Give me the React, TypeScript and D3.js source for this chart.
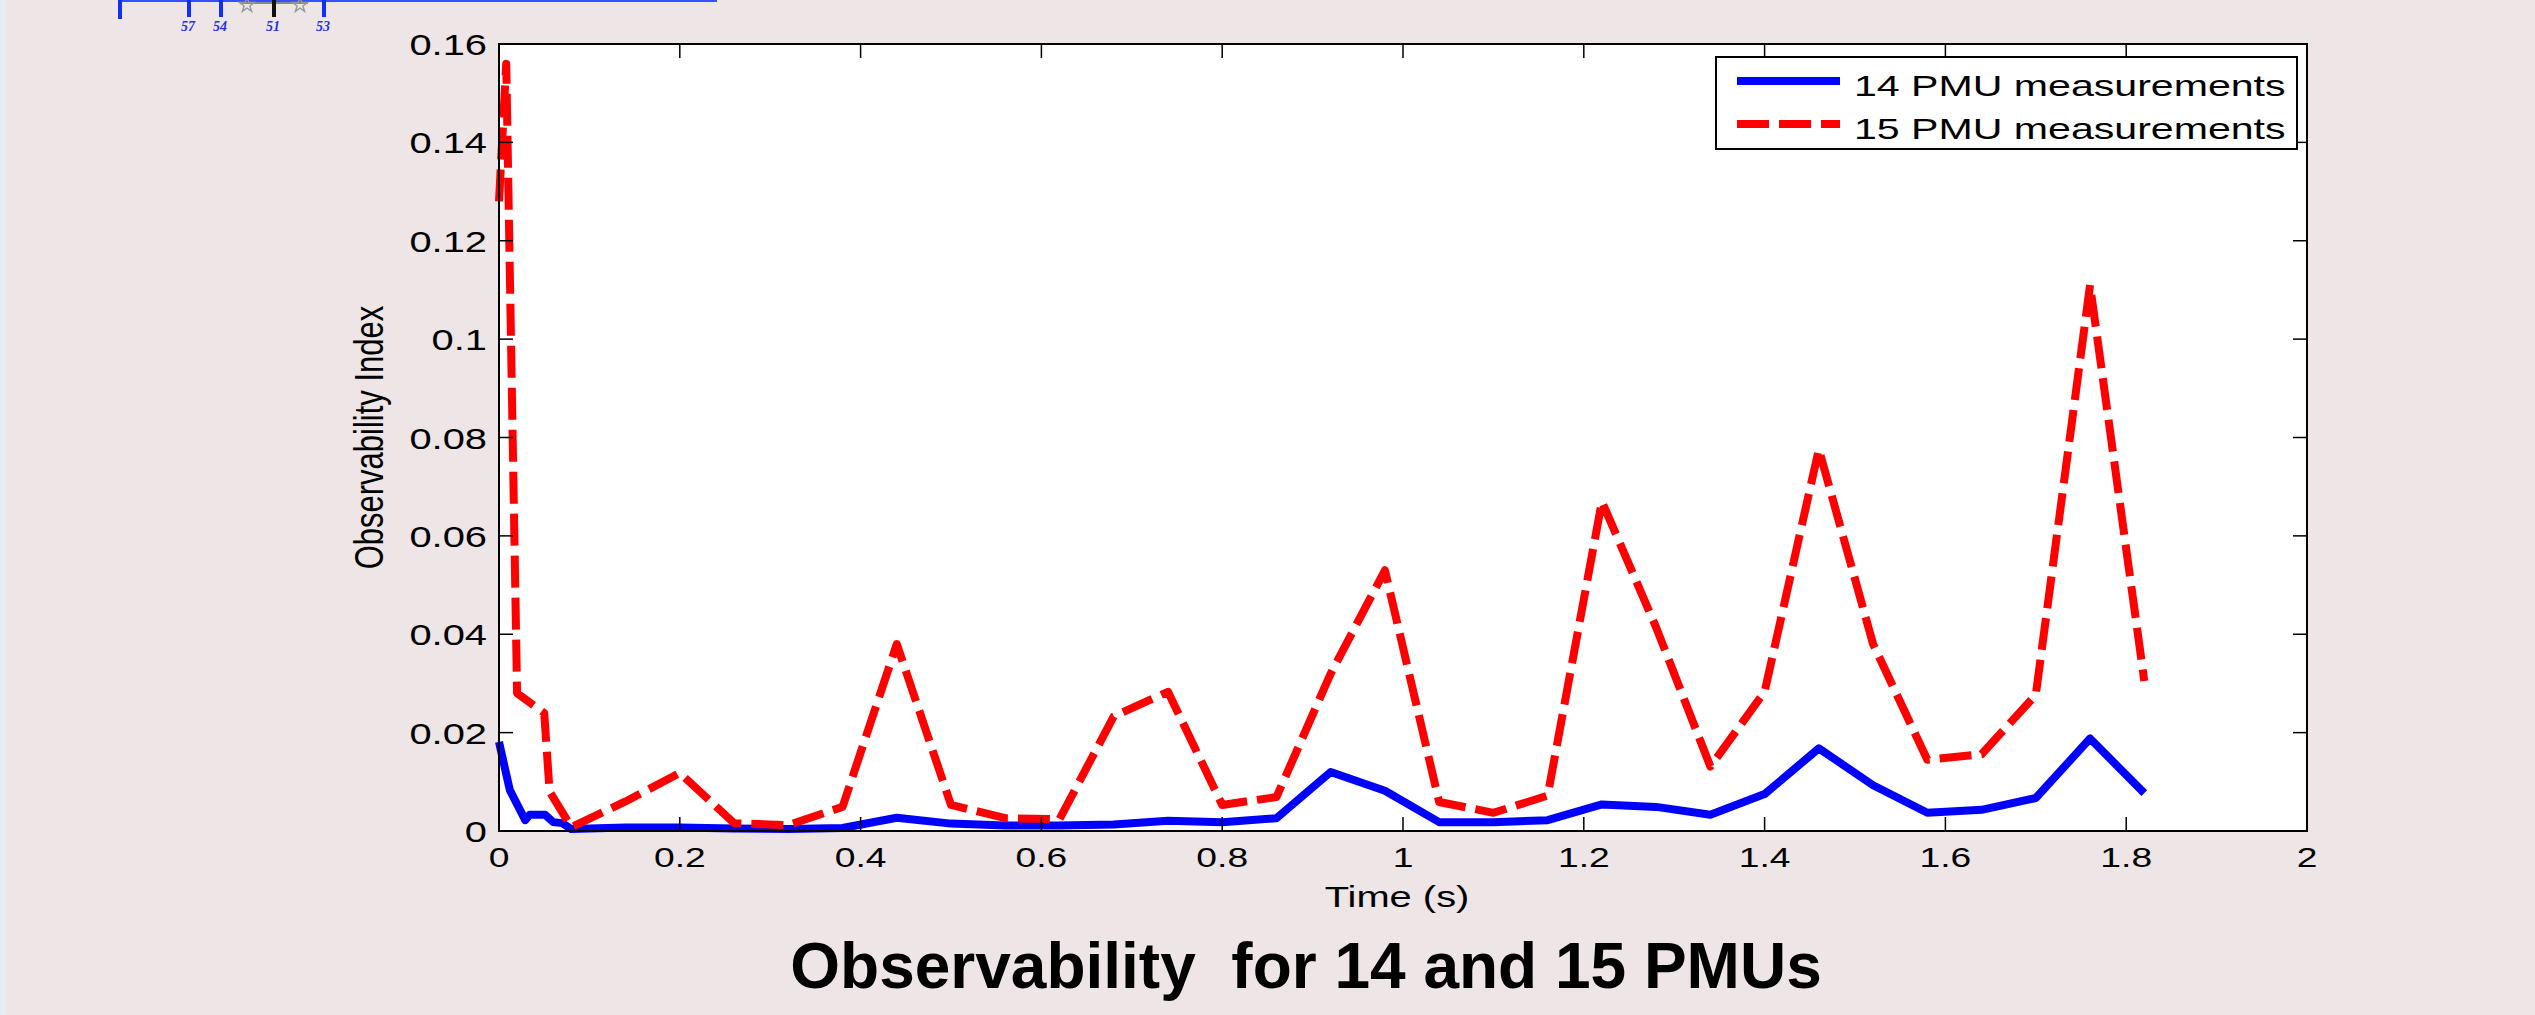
import React from "react";
import * as d3 from "d3";

// time (s) and observability index
const time14 = [0, 0.012, 0.029, 0.034, 0.051, 0.06, 0.07, 0.08, 0.14, 0.2, 0.26, 0.32, 0.38, 0.44, 0.5, 0.56, 0.62, 0.68, 0.74, 0.8, 0.86, 0.92, 0.98, 1.04, 1.1, 1.16, 1.22, 1.28, 1.34, 1.4, 1.46, 1.52, 1.58, 1.64, 1.7, 1.76, 1.82];
const obs14 = [0.0181, 0.0083, 0.0022, 0.0033, 0.0033, 0.0018, 0.0016, 0.0004, 0.0007, 0.0007, 0.0005, 0.0004, 0.0006, 0.0027, 0.0015, 0.0011, 0.0011, 0.0013, 0.0021, 0.0018, 0.0026, 0.012, 0.0082, 0.0018, 0.0018, 0.0022, 0.0054, 0.0049, 0.0033, 0.0075, 0.0168, 0.0093, 0.0037, 0.0043, 0.0067, 0.0188, 0.0077];

const time15 = [0, 0.008, 0.02, 0.05, 0.056, 0.08, 0.14, 0.2, 0.26, 0.32, 0.38, 0.44, 0.5, 0.56, 0.62, 0.68, 0.74, 0.8, 0.86, 0.92, 0.98, 1.04, 1.1, 1.16, 1.22, 1.28, 1.34, 1.4, 1.46, 1.52, 1.58, 1.64, 1.7, 1.76, 1.82];
const obs15 = [0.128, 0.156, 0.028, 0.024, 0.008, 0.0008, 0.006, 0.0118, 0.0016, 0.0012, 0.0049, 0.038, 0.0053, 0.0026, 0.0024, 0.0233, 0.0283, 0.0053, 0.0069, 0.032, 0.053, 0.0059, 0.0037, 0.0072, 0.067, 0.0414, 0.0131, 0.0283, 0.0776, 0.038, 0.0145, 0.0156, 0.0277, 0.111, 0.0305];

const xTicks = [0, 0.2, 0.4, 0.6, 0.8, 1, 1.2, 1.4, 1.6, 1.8, 2];
const xTickLabels = ["0", "0.2", "0.4", "0.6", "0.8", "1", "1.2", "1.4", "1.6", "1.8", "2"];
const yTicks = [0, 0.02, 0.04, 0.06, 0.08, 0.1, 0.12, 0.14, 0.16];
const yTickLabels = ["0", "0.02", "0.04", "0.06", "0.08", "0.1", "0.12", "0.14", "0.16"];

const seriesNames = ["14 PMU measurements", "15 PMU measurements"];
const busLabels = ["57", "54", "51", "53"];

const W = 2535;
const H = 1015;
const left = 499, right = 2307, top = 44, bottom = 831;
const SX = 1.33; // the figure text is stretched sideways
const FONT = "'Liberation Sans', Arial, Helvetica, sans-serif";

function Stretch({ x, y, sx = SX, anchor = "start", size = 30, children, ...rest }: any) {
  return (
    <text
      transform={`translate(${x},${y}) scale(${sx},1)`}
      textAnchor={anchor}
      fontSize={size}
      fontFamily={FONT}
      {...rest}
    >
      {children}
    </text>
  );
}

export default function App() {
  const x = d3.scaleLinear().domain([0, 2]).range([left, right]);
  const y = d3.scaleLinear().domain([0, 0.16]).range([bottom, top]);

  const line = d3
    .line<[number, number]>()
    .x((d) => x(d[0]))
    .y((d) => y(d[1]));

  const pts14 = time14.map((t, i) => [t, obs14[i]] as [number, number]);
  const pts15 = time15.map((t, i) => [t, obs15[i]] as [number, number]);

  const star = d3.symbol().type(d3.symbolStar).size(70)();
  const busX = [189, 221, 274, 324];

  const tickLen = 14;

  return (
    <svg
      width={W}
      height={H}
      style={{ position: "absolute", left: 0, top: 0, background: "#ede5e6" }}
    >
      <rect x={0} y={0} width={W} height={H} fill="#ede5e6" />
      <rect x={0} y={0} width={6} height={H} fill="#e6eef4" />

      {/* cut-off one-line diagram at the top */}
      <g>
        <line x1={120} x2={717} y1={1} y2={1} stroke="#3b4cff" strokeWidth={2} />
        <line x1={120} x2={120} y1={0} y2={19} stroke="#1030ff" strokeWidth={4} />
        <line x1={240} x2={308} y1={3} y2={3} stroke="#888" strokeWidth={2} />
        {busX.map((bx, i) => (
          <line key={i} x1={bx} x2={bx} y1={0} y2={17} stroke={i === 2 ? "#111" : "#1030ff"} strokeWidth={4} />
        ))}
        {[247, 300].map((sx, i) => (
          <path key={i} d={star as string} transform={`translate(${sx},5)`} fill="none" stroke="#999" strokeWidth={1.4} />
        ))}
        {busLabels.map((b, i) => (
          <text key={b} x={busX[i] - 1} y={31} textAnchor="middle" fontSize={14} fontStyle="italic" fontWeight="bold" fill="#2233ee" fontFamily="'Liberation Serif', serif">
            {b}
          </text>
        ))}
      </g>

      {/* plot area */}
      <rect x={left} y={top} width={right - left} height={bottom - top} fill="#ffffff" />

      <path d={line(pts14) as string} fill="none" stroke="#0000ff" strokeWidth={8} strokeLinejoin="round" />
      <path d={line(pts15) as string} fill="none" stroke="#ff0000" strokeWidth={8} strokeDasharray="32 10" strokeLinejoin="round" />

      {/* ticks */}
      {xTicks.map((t, i) => (
        <g key={"xt" + i}>
          <line x1={x(t)} x2={x(t)} y1={bottom} y2={bottom - tickLen} stroke="#000" strokeWidth={1.5} />
          <line x1={x(t)} x2={x(t)} y1={top} y2={top + tickLen} stroke="#000" strokeWidth={1.5} />
          <Stretch x={x(t)} y={867} anchor="middle" size={28}>
            {xTickLabels[i]}
          </Stretch>
        </g>
      ))}
      {yTicks.map((v, i) => (
        <g key={"yt" + i}>
          <line x1={left} x2={left + tickLen} y1={y(v)} y2={y(v)} stroke="#000" strokeWidth={1.5} />
          <line x1={right} x2={right - tickLen} y1={y(v)} y2={y(v)} stroke="#000" strokeWidth={1.5} />
          <Stretch x={487} y={y(v) + 11} anchor="end" size={30}>
            {yTickLabels[i]}
          </Stretch>
        </g>
      ))}

      <rect x={left} y={top} width={right - left} height={bottom - top} fill="none" stroke="#000" strokeWidth={2} />

      {/* axis labels */}
      <Stretch x={(left + right) / 2 - 6} y={907} anchor="middle" size={30}>
        Time (s)
      </Stretch>
      <text
        transform={`translate(383,${(top + bottom) / 2}) rotate(-90) scale(1,${SX})`}
        textAnchor="middle"
        fontSize={31}
        fontFamily={FONT}
      >
        Observability Index
      </text>

      {/* legend */}
      <g>
        <rect x={1716} y={57} width={581} height={92} fill="#ffffff" stroke="#000" strokeWidth={2} />
        <line x1={1737} x2={1840} y1={81} y2={81} stroke="#0000ff" strokeWidth={8} />
        <line x1={1737} x2={1840} y1={124} y2={124} stroke="#ff0000" strokeWidth={8} strokeDasharray="32 10" />
        <Stretch x={1854} y={96} size={30} sx={1.37}>
          {seriesNames[0]}
        </Stretch>
        <Stretch x={1854} y={139} size={30} sx={1.37}>
          {seriesNames[1]}
        </Stretch>
      </g>

      {/* slide title */}
      <text
        x={1306}
        y={988}
        textAnchor="middle"
        fontSize={64}
        fontWeight="bold"
        fontFamily={FONT}
        style={{ whiteSpace: "pre" }}
      >
        {"Observability  for 14 and 15 PMUs"}
      </text>
    </svg>
  );
}
